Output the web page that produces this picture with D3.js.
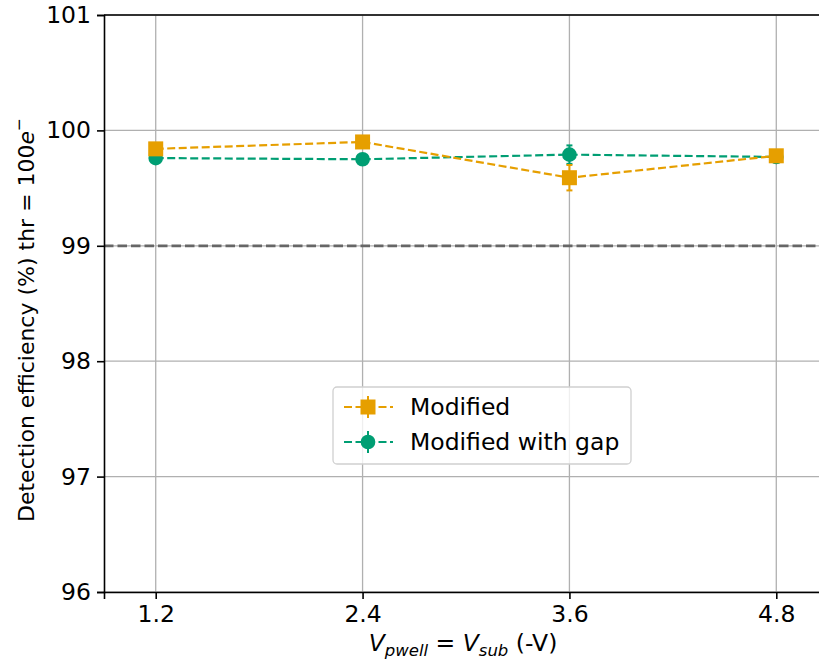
<!DOCTYPE html>
<html>
<head>
<meta charset="utf-8">
<script src="https://cdn.jsdelivr.net/npm/d3@7"></script>
<style>
  body { margin: 0; background: #fff; }
  svg { font-family: "DejaVu Sans", sans-serif; }
</style>
</head>
<body>
<svg></svg>
<script>
// bias voltages (-V) and detection efficiency per sensor flavour
const voltages = [1.2, 2.4, 3.6, 4.8];
const modified = [99.84, 99.90, 99.59, 99.78];
const modifiedErr = [0.05, 0.03, 0.11, 0.03];
const modifiedGap = [99.76, 99.75, 99.79, 99.77];
const modifiedGapErr = [0.03, 0.03, 0.08, 0.03];
const yTicks = [96, 97, 98, 99, 100, 101];
const threshold = 99;

const svgWidth = 819;
const svgHeight = 663;
const margin = {top: 15, left: 104};
const plotW = 724, plotH = 577;

const orange = "#E69F00";
const green = "#009E73";

let svg = d3.select("svg")
  .attr("width", svgWidth)
  .attr("height", svgHeight);

let scaleX = d3.scaleLinear().domain([0.9, 5.1]).range([0, plotW]);
let scaleY = d3.scaleLinear().domain([96, 101]).range([plotH, 0]);

let g = svg.append("g")
  .attr("transform", "translate(" + margin.left + "," + margin.top + ")");

// grid
g.append("g").selectAll("line")
  .data(voltages).enter().append("line")
  .attr("x1", d => scaleX(d)).attr("x2", d => scaleX(d))
  .attr("y1", 0).attr("y2", plotH)
  .attr("stroke", "#b0b0b0").attr("stroke-width", 1.3);
g.append("g").selectAll("line")
  .data(yTicks).enter().append("line")
  .attr("x1", 0).attr("x2", plotW)
  .attr("y1", d => scaleY(d)).attr("y2", d => scaleY(d))
  .attr("stroke", "#b0b0b0").attr("stroke-width", 1.3);

// 99% reference line
g.append("line")
  .attr("x1", 0).attr("x2", plotW)
  .attr("y1", scaleY(threshold)).attr("y2", scaleY(threshold))
  .attr("stroke", "#666").attr("stroke-width", 2.7)
  .attr("stroke-dasharray", "9.5,4");

function drawSeries(values, errs, color, shape) {
  let pts = voltages.map((v, i) => ({x: v, y: values[i], e: errs[i]}));
  g.append("path")
    .datum(pts)
    .attr("fill", "none")
    .attr("stroke", color)
    .attr("stroke-width", 2.2)
    .attr("stroke-dasharray", "8,3.5")
    .attr("d", d3.line().x(d => scaleX(d.x)).y(d => scaleY(d.y)));

  let eb = g.append("g").attr("stroke", color).attr("stroke-width", 2);
  pts.forEach(p => {
    let cx = scaleX(p.x);
    let y0 = scaleY(p.y - p.e), y1 = scaleY(p.y + p.e);
    eb.append("line").attr("x1", cx).attr("x2", cx).attr("y1", y0).attr("y2", y1);
    eb.append("line").attr("x1", cx - 3).attr("x2", cx + 3).attr("y1", y0).attr("y2", y0);
    eb.append("line").attr("x1", cx - 3).attr("x2", cx + 3).attr("y1", y1).attr("y2", y1);
  });

  let sym = d3.symbol().type(shape === "square" ? d3.symbolSquare : d3.symbolCircle)
    .size(shape === "square" ? 225 : 170);
  g.append("g").selectAll("path")
    .data(pts).enter().append("path")
    .attr("transform", d => "translate(" + scaleX(d.x) + "," + scaleY(d.y) + ")")
    .attr("d", sym)
    .attr("fill", color);
}

drawSeries(modifiedGap, modifiedGapErr, green, "circle");
drawSeries(modified, modifiedErr, orange, "square");

// axes
let xAxis = g.append("g")
  .attr("transform", "translate(0," + plotH + ")")
  .call(d3.axisBottom(scaleX).tickValues(voltages).tickFormat(d3.format(".1f")).tickSizeOuter(0).tickSize(7).tickPadding(6));
let yAxis = g.append("g")
  .call(d3.axisLeft(scaleY).tickValues(yTicks).tickFormat(d3.format("d")).tickSizeOuter(0).tickSize(7).tickPadding(6));
[xAxis, yAxis].forEach(a => {
  a.select(".domain").attr("stroke", "#000").attr("stroke-width", 1.6);
  a.selectAll(".tick line").attr("stroke", "#000").attr("stroke-width", 1.6);
  a.selectAll(".tick text").attr("font-size", 23.5).attr("fill", "#000")
    .attr("font-family", "DejaVu Sans");
});
// top spine
g.append("line").attr("x1", 0).attr("x2", plotW).attr("y1", 0).attr("y2", 0)
  .attr("stroke", "#000").attr("stroke-width", 1.6);

// x label
let xl = svg.append("text")
  .attr("x", margin.left + plotW / 2 - 3).attr("y", 651)
  .attr("text-anchor", "middle").attr("font-size", 23.5);
xl.append("tspan").attr("font-style", "italic").text("V");
xl.append("tspan").attr("font-style", "italic").attr("font-size", 16.5).attr("dy", 5).text("pwell");
xl.append("tspan").attr("dy", -5).text(" = ");
xl.append("tspan").attr("font-style", "italic").text("V");
xl.append("tspan").attr("font-style", "italic").attr("font-size", 16.5).attr("dy", 5).text("sub");
xl.append("tspan").attr("dy", -5).text(" (-V)");

// y label
let yl = svg.append("text")
  .attr("transform", "translate(34,522) rotate(-90)")
  .attr("text-anchor", "start").attr("font-size", 22);
yl.append("tspan").text("Detection efficiency (%) thr = 100");
yl.append("tspan").attr("font-style", "italic").text("e");
yl.append("tspan").attr("font-size", 15.5).attr("dy", -10).text("\u2212");

// legend
let leg = svg.append("g").attr("transform", "translate(333,387)");
leg.append("rect")
  .attr("width", 298).attr("height", 77).attr("rx", 4)
  .attr("fill", "#fff").attr("fill-opacity", 0.8)
  .attr("stroke", "#d0d0d0").attr("stroke-width", 1.3);
const legendItems = [
  {label: "Modified", color: orange, shape: "square"},
  {label: "Modified with gap", color: green, shape: "circle"}
];
legendItems.forEach((it, i) => {
  let row = leg.append("g").attr("transform", "translate(0," + (20 + i * 35) + ")");
  row.append("line").attr("x1", 10).attr("x2", 60).attr("y1", 0).attr("y2", 0)
    .attr("stroke", it.color).attr("stroke-width", 2.2).attr("stroke-dasharray", "8,3.5")
    .attr("stroke-dashoffset", -1);
  row.append("line").attr("x1", 35).attr("x2", 35).attr("y1", -11).attr("y2", 11)
    .attr("stroke", it.color).attr("stroke-width", 2);
  row.append("path").attr("transform", "translate(35,0)")
    .attr("d", d3.symbol().type(it.shape === "square" ? d3.symbolSquare : d3.symbolCircle)
      .size(it.shape === "square" ? 225 : 170))
    .attr("fill", it.color);
  row.append("text").attr("x", 77).attr("y", 8).attr("font-size", 23.5).attr("fill", "#000")
    .text(it.label);
});
</script>
</body>
</html>
